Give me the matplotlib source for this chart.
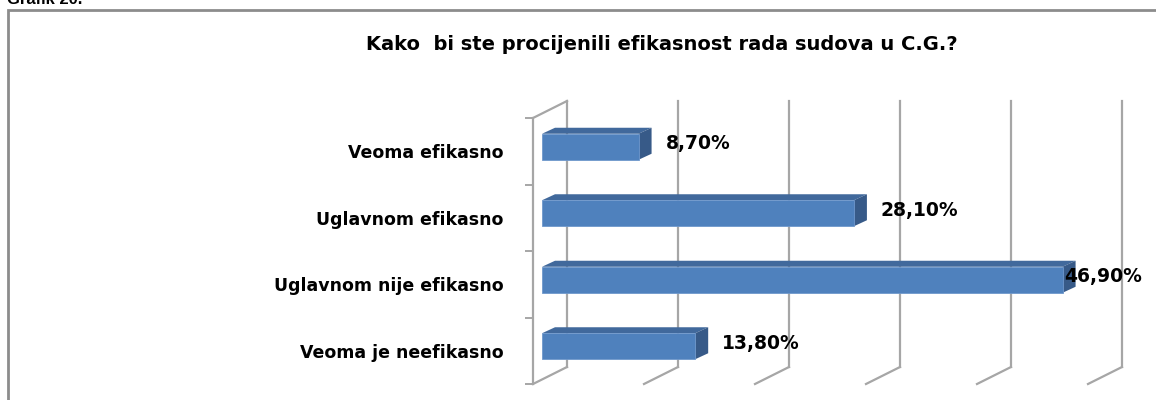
import matplotlib
matplotlib.use('Agg')
import matplotlib.pyplot as plt
from matplotlib.patches import Rectangle, Polygon

# data
categories = ["Veoma efikasno", "Uglavnom efikasno", "Uglavnom nije efikasno", "Veoma je neefikasno"]
values = [8.7, 28.1, 46.9, 13.8]
value_labels = ["8,70%", "28,10%", "46,90%", "13,80%"]
grid_ticks = [0, 10, 20, 30, 40, 50]
title = "Kako  bi ste procijenili efikasnost rada sudova u C.G.?"

W, H = 1156, 400
PX = 11.1     # pixels per percent
CAT = 66.5    # pixels per category

# fake 3d offsets (in data units)
wall_dx, wall_dy = 34 / PX, -17 / CAT
front_dx, front_dy = 9 / PX, -4.5 / CAT
depth_dx, depth_dy = 13 / PX, -6 / CAT
bar_h = 26 / CAT

grid_col = '#a6a6a6'
front_col = '#4f81bd'
top_col = '#41699c'
side_col = '#375a88'

fig = plt.figure(figsize=(W / 100, H / 100), dpi=100)
ax = fig.add_axes([533 / W, 16 / H, 555 / W, 266 / H])
ax.set_xlim(0, 50)
ax.set_ylim(len(categories) - 0.5, -0.5)

y_top, y_bot = -0.5, len(categories) - 0.5

# back wall gridlines and floor lines
for g in grid_ticks:
    ax.plot([g + wall_dx, g + wall_dx], [y_bot + wall_dy, y_top + wall_dy], color=grid_col, lw=1.6, clip_on=False, zorder=1)
    ax.plot([g, g + wall_dx], [y_bot, y_bot + wall_dy], color=grid_col, lw=1.6, clip_on=False, zorder=1)
# side wall top edge
ax.plot([0, wall_dx], [y_top, y_top + wall_dy], color=grid_col, lw=1.6, clip_on=False, zorder=1)

# bars
for i, v in enumerate(values):
    x0 = front_dx
    x1 = front_dx + v
    top = i - bar_h / 2 + front_dy
    bot = i + bar_h / 2 + front_dy
    ax.add_patch(Polygon([(x0, top), (x1, top), (x1 + depth_dx, top + depth_dy), (x0 + depth_dx, top + depth_dy)],
                         closed=True, fc=top_col, ec='none', clip_on=False, zorder=3))
    ax.add_patch(Polygon([(x1, top), (x1, bot), (x1 + depth_dx, bot + depth_dy), (x1 + depth_dx, top + depth_dy)],
                         closed=True, fc=side_col, ec='none', clip_on=False, zorder=3))
    ax.add_patch(Rectangle((x0, top), v, bar_h, fc=front_col, ec='#6f98cc', lw=0.6, clip_on=False, zorder=4))
    lx = min(x1 + 27 / PX, (1064 - 533) / PX)
    ax.text(lx, i + front_dy + depth_dy / 2, value_labels[i], ha='left', va='center',
            fontsize=13.5, fontweight='bold', zorder=5, clip_on=False)

# axes styling
for s in ['top', 'right', 'bottom']:
    ax.spines[s].set_visible(False)
ax.spines['left'].set_color(grid_col)
ax.spines['left'].set_linewidth(1.6)
ax.set_xticks([])
ax.set_yticks(range(len(categories)))
ax.set_yticklabels(categories, fontsize=12.5, fontweight='bold')
ax.tick_params(axis='y', which='major', length=0, pad=21)
ax.set_yticks([k - 0.5 for k in range(len(categories) + 1)], minor=True)
ax.tick_params(axis='y', which='minor', length=6, width=1.4, color=grid_col)
ax.patch.set_alpha(0)

fig.text(662 / W, 1 - 45 / H, title, ha='center', va='center', fontsize=14, fontweight='bold')
fig.text(7 / W, 1 - 4 / H, "Grafik 20.", ha='left', va='baseline', fontsize=12,
         fontweight='bold', family='Liberation Sans')

fig.add_artist(Rectangle((8 / W, -0.1), 1.2, 1.1 - 10 / H, transform=fig.transFigure,
                         fill=False, ec='#8c8c8c', lw=2))

fig.savefig('out.png', dpi=100)
